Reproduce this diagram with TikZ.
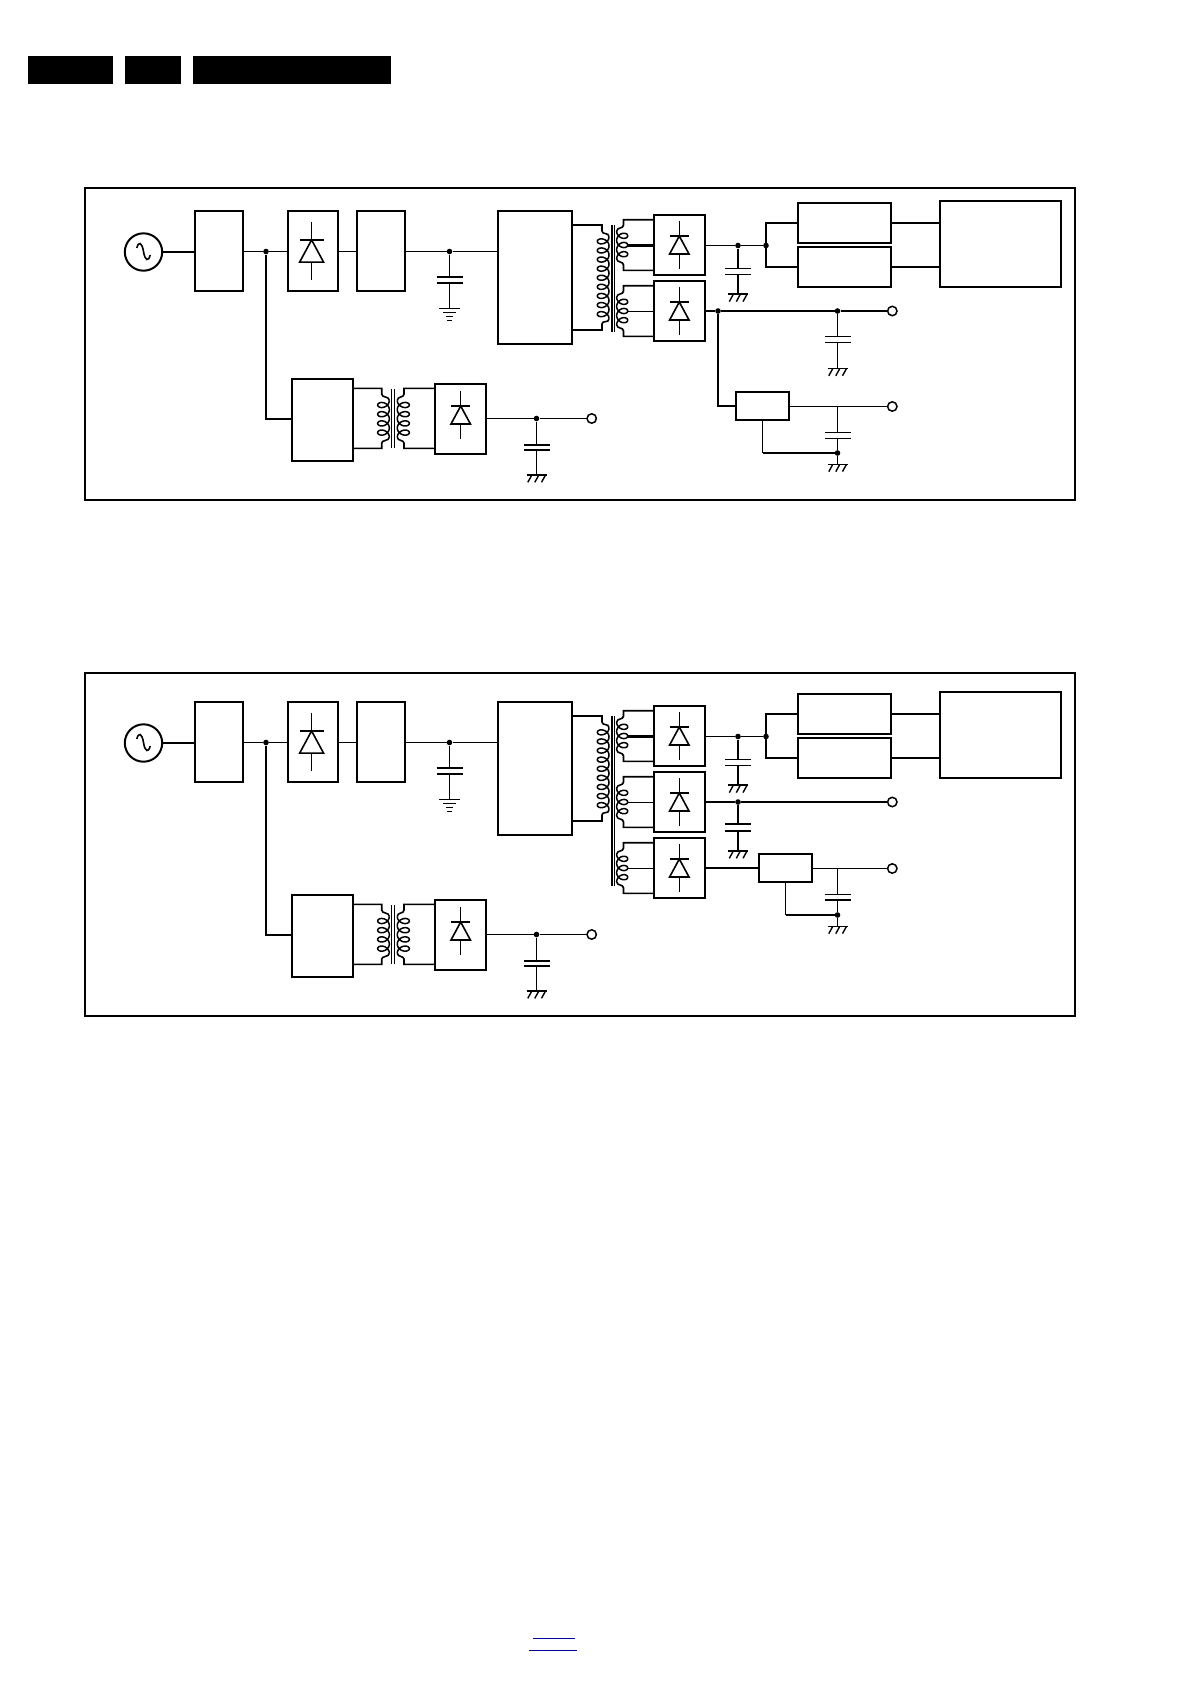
\documentclass[tikz,border=0pt]{standalone}
\tikzset{
  blockbox/.style={draw, rectangle, line width=2.2pt, inner sep=0pt, outer sep=0pt},
  thinwire/.style={line width=1.2pt},
  midwire/.style={line width=1.6pt},
  heavywire/.style={line width=2.2pt},
  dotnode/.style={circle, fill=black, inner sep=0pt, minimum size=5.6pt},
  termnode/.style={circle, draw, fill=white, line width=1.5pt, inner sep=0pt, outer sep=0pt, minimum size=9.4pt},
  coilwire/.style={line width=1.5pt, line join=round}
}
% block from its corners
\newcommand{\block}[5]{\node[blockbox, minimum width={((#4)-(#2))*1pt}, minimum height={((#5)-(#3))*1pt}] (#1) at ({(#2+#4)/2},{(#3+#5)/2}) {};}
% winding: centre x, start y, signed amplitude, pitch, turns
\newcommand{\coil}[5]{\draw[coilwire] plot[samples=217, domain=0:#5*360, variable=\t] ({#1+#3*cos(\t)},{#2+#4*(\t/360)+0.5*#4*sin(\t)});}
% diode: x, centre y, size
\newcommand{\diode}[3]{
  \draw[thinwire] (#1,{#2-23.7*#3}) -- (#1,{#2-9*#3}) (#1,{#2+9*#3}) -- (#1,{#2+23.7*#3});
  \draw[line width=1.6pt, line join=miter] ({#1-9.7*#3},{#2+9*#3}) -- (#1,{#2-9*#3}) -- ({#1+9.7*#3},{#2+9*#3}) -- cycle;
  \draw[heavywire] ({#1-9.7*#3},{#2-9*#3}) -- ({#1+9.7*#3},{#2-9*#3});
}
% capacitor plates: name, x, y1, y2
\newcommand{\capa}[5][thinwire]{
  \draw[#1] ({#3-13},#4) -- ({#3+13},#4) ({#3-13},#5) -- ({#3+13},#5);
  \coordinate (#2t) at (#3,#4);
  \coordinate (#2b) at (#3,#5);
}
% hatched earth: name, x, y
\newcommand{\hatch}[4][midwire]{
  \coordinate (#2) at (#3,#4);
  \draw[#1] ({#3-10},#4) -- ({#3+10},#4);
  \foreach \hx in {-4.7,2.3,9} {
    \draw[line width=1.4pt] ({#3+\hx},#4) -- ({#3+\hx-4},{#4+7.3});
  }
}
% rectifier with its secondary winding: name, centre y, style of the tap
\newcommand{\rectifier}[3]{
  \block{#1}{654}{#2-30}{705}{#2+30}
  \diode{679.3}{#2}{1}
  \coil{622.2}{#2-13.8}{-5.5}{9.2}{3}
  \draw[midwire] ([yshift=25.3pt]#1.west) -- (623.5,{#2-25.3}) -- (623.5,{#2-20}) .. controls (623.5,{#2-16}) and (616.7,{#2-18}) .. (616.7,{#2-13.8});
  \draw[midwire] ([yshift=-25.3pt]#1.west) -- (623.5,{#2+25.3}) -- (623.5,{#2+20}) .. controls (623.5,{#2+16}) and (616.7,{#2+18}) .. (616.7,{#2+13.8});
  \draw[#3] (627.7,{#2+0.5}) -- ([yshift=-0.5pt]#1.west);
}
\begin{document}
\begin{tikzpicture}[x=1pt,y=-1pt]
  \useasboundingbox (0,0) rectangle (1191,1684);

  % header bars
  \fill[black] (28,56) rectangle (113,84);
  \fill[black] (125,56) rectangle (181,84);
  \fill[black] (193,56) rectangle (391,84);

  % frames
  \block{framea}{85}{188}{1075}{500}
  \block{frameb}{85}{673}{1075}{1016}

  % same parts in both panels
  \foreach \pn/\dy in {a/0,b/491} {
    \begin{scope}[yshift=-\dy pt]
      % mains, filter, bridge
      \node[circle, draw, line width=2pt, inner sep=0pt, outer sep=0pt, minimum size=37.4pt] (src\pn) at (143.5,252) {};
      \draw[midwire] (136.8,248) .. controls (138.5,241) and (142,242) .. (143.5,251.5) .. controls (145,261) and (148.5,262) .. (150.2,255);
      \block{filt\pn}{195}{211}{243}{291}
      \block{brg\pn}{288}{211}{338}{291}
      \diode{311.6}{251}{1.23}
      \block{pfc\pn}{357}{211}{405}{291}
      \block{sw\pn}{498}{211}{572}{344}
      \node[dotnode] (jin\pn) at (266,251.5) {};
      \node[dotnode] (jdc\pn) at (449.5,251.5) {};
      \draw[heavywire] (src\pn.east) -- (src\pn.east -| filt\pn.west);
      \draw[thinwire] (jin\pn -| filt\pn.east) -- (jin\pn) -- (jin\pn -| brg\pn.west);
      \draw[thinwire] (jin\pn -| brg\pn.east) -- (jin\pn -| pfc\pn.west);
      \draw[thinwire] (jdc\pn -| pfc\pn.east) -- (jdc\pn) -- (jdc\pn -| sw\pn.west);

      % buffer capacitor
      \capa[heavywire]{cdc\pn}{449.5}{277}{282.7}
      \coordinate (gdc\pn) at (449.5,308.5);
      \draw[thinwire] (jdc\pn) -- (cdc\pn t) (cdc\pn b) -- (gdc\pn);
      \draw[midwire] (439,308.5) -- (460,308.5);
      \draw[thinwire] (443.2,312.4) -- (455.8,312.4) (445.8,316.6) -- (453.2,316.6) (447,320.6) -- (452,320.6);

      % main transformer
      \coil{603.15}{236.8}{5.85}{9.1}{9}
      \draw[midwire] ([yshift=52.5pt]sw\pn.east) -- (602,225) -- (602,231) .. controls (602,235) and (609,232) .. (609,236.8);
      \draw[midwire] ([yshift=-52.5pt]sw\pn.east) -- (602,330) -- (602,324) .. controls (602,320) and (609,323.5) .. (609,318.7);

      % first output
      \rectifier{rect\pn1}{245}{heavywire}
      \node[dotnode] (jc\pn) at (738,245.5) {};
      \node[dotnode] (jl\pn) at (766,245.5) {};
      \block{load\pn1}{798}{203}{891}{243}
      \block{load\pn2}{798}{247}{891}{287}
      \block{disp\pn}{940}{201}{1061}{287}
      \draw[thinwire] (jc\pn -| rect\pn1.east) -- (jc\pn) -- (jl\pn);
      \draw[heavywire] (load\pn1.west) -| (jl\pn.center) |- (load\pn2.west);
      \draw[heavywire] (load\pn1.east) -- (load\pn1.east -| disp\pn.west);
      \draw[heavywire] (load\pn2.east) -- (load\pn2.east -| disp\pn.west);
      \capa{cl\pn}{738}{268.3}{274.3}
      \hatch[heavywire]{gl\pn}{738}{294.3}
      \draw[heavywire] (jc\pn) -- (cl\pn t) (cl\pn b) -- (gl\pn);

      % second rectifier
      \rectifier{rect\pn2}{311}{thinwire}
    \end{scope}
  }

  % standby part, same in both panels
  \foreach \pn/\dy in {a/0,b/516} {
    \begin{scope}[yshift=-\dy pt]
      \block{aux\pn}{292}{379}{353}{461}
      \block{auxrect\pn}{435}{384}{486}{454}
      \diode{460.7}{415}{1}
      \coil{383.5}{400.4}{5.8}{9.2}{4}
      \coil{403.3}{400.4}{-6}{9.2}{4}
      \draw[midwire] (391.4,389) -- (391.4,448.3) (394.4,389) -- (394.4,448.3);
      \draw[midwire] ([yshift=31.7pt]aux\pn.east) -- (381.7,388.3) -- (381.7,394) .. controls (381.7,398) and (389.3,396) .. (389.3,400.4);
      \draw[midwire] ([yshift=-28.3pt]aux\pn.east) -- (381.7,448.3) -- (381.7,443) .. controls (381.7,440) and (389.3,441) .. (389.3,437.2);
      \draw[midwire] ([yshift=30.7pt]auxrect\pn.west) -- (404,388.3) -- (404,394) .. controls (404,398) and (397.3,396) .. (397.3,400.4);
      \draw[midwire] ([yshift=-29.3pt]auxrect\pn.west) -- (404,448.3) -- (404,443) .. controls (404,440) and (397.3,441) .. (397.3,437.2);
      \node[dotnode] (jaux\pn) at (536.5,418.5) {};
      \node[termnode] (taux\pn) at (591.7,418.5) {};
      \draw[thinwire] (jaux\pn -| auxrect\pn.east) -- (jaux\pn) -- (taux\pn);
      \capa[heavywire]{caux\pn}{536.5}{445}{450}
      \hatch[heavywire]{gaux\pn}{536.5}{475}
      \draw[thinwire] (jaux\pn) -- (caux\pn t) (caux\pn b) -- (gaux\pn);
    \end{scope}
    \draw[heavywire] (jin\pn) |- ([yshift=1pt]aux\pn.west);
  }

  % upper panel, second output and regulator
  \draw[midwire] (612,225) -- (612,332) (614.6,225) -- (614.6,332);
  \node[dotnode] (jra) at (718,311) {};
  \node[dotnode] (jca) at (837.5,311) {};
  \node[termnode] (tra) at (892.3,311) {};
  \draw[heavywire] (recta2.east) -- (jra) -- (jca) -- (tra);
  \capa{cra}{837.5}{336.3}{342.3}
  \hatch{gra}{837.5}{368.5}
  \draw[thinwire] (jca) -- (crat) (crab) -- (gra);
  \block{rega}{736}{392}{789}{420}
  \draw[heavywire] (jra) |- (rega.west);
  \node[termnode] (tsa) at (892.3,406.5) {};
  \coordinate (jsa) at (837.5,406.5);
  \draw[thinwire] (jsa -| rega.east) -- (jsa) -- (tsa);
  \capa{csa}{837.5}{432.7}{438.3}
  \node[dotnode] (jga) at (837.5,453) {};
  \hatch{gsa}{837.5}{464.3}
  \draw[thinwire] (jsa) -- (csat) (csab) -- (jga) -- (gsa);
  \coordinate (kna) at (rega.south |- jga);
  \draw[thinwire] (rega.south) -- (kna);
  \draw[heavywire] (kna) -- (jga);

  % lower panel, second and third output
  \draw[midwire] (612,716) -- (612,886) (614.6,716) -- (614.6,886);
  \begin{scope}[yshift=-491pt]
    \node[dotnode] (jrb) at (738,311) {};
    \node[termnode] (trb) at (892.3,311) {};
    \draw[heavywire] (rectb2.east) -- (jrb) -- (trb);
    \capa[heavywire]{crb}{738}{333.3}{339.7}
    \hatch[heavywire]{grb}{738}{360}
    \draw[heavywire] (jrb) -- (crbt) (crbb) -- (grb);
    \rectifier{rectb3}{377}{thinwire}
    \block{regb}{759}{363}{812}{391}
    \draw[heavywire] (regb.west -| rectb3.east) -- (regb.west);
    \node[termnode] (tsb) at (892.3,377.5) {};
    \coordinate (jsb) at (837.5,377.5);
    \draw[thinwire] (jsb -| regb.east) -- (jsb) -- (tsb);
    \capa{csb}{837.5}{403.3}{409}
    \node[dotnode] (jgb) at (837.5,424) {};
    \hatch{gsb}{837.5}{435.3}
    \draw[thinwire] (jsb) -- (csbt) (csbb) -- (jgb) -- (gsb);
    \coordinate (knb) at (regb.south |- jgb);
    \draw[thinwire] (regb.south) -- (knb);
    \draw[heavywire] (knb) -- (jgb);
  \end{scope}

  % rules at the foot of the page
  \definecolor{rulecolor}{RGB}{0,0,160}
  \draw[rulecolor, line width=1pt] (533.3,1638.5) -- (575,1638.5);
  \draw[rulecolor, line width=1pt] (529,1650.5) -- (576.7,1650.5);
\end{tikzpicture}
\end{document}
